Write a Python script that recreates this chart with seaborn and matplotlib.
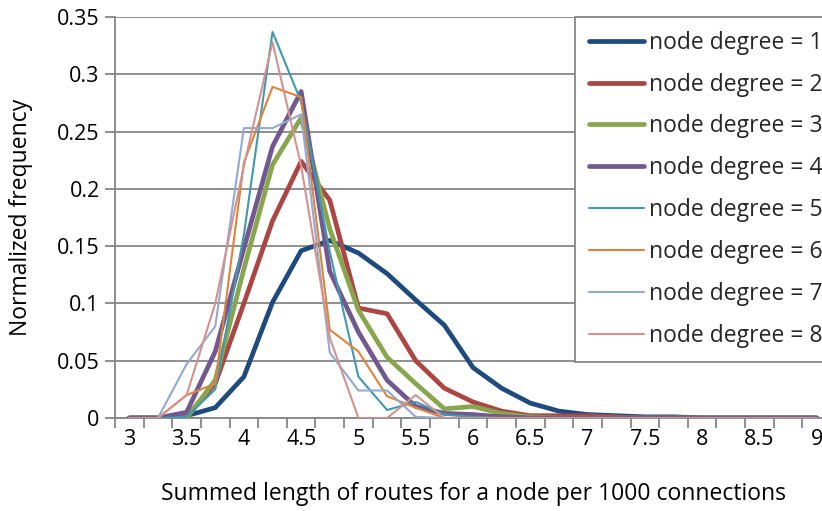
import numpy as np
import pandas as pd
import seaborn as sns
import matplotlib
matplotlib.use("Agg")
import matplotlib.pyplot as plt
from matplotlib.lines import Line2D
from matplotlib.ticker import FixedLocator

# Summed route length per node (per 1000 connections), binned every 0.25
lengths = [3.00, 3.25, 3.50, 3.75, 4.00, 4.25, 4.50, 4.75, 5.00, 5.25, 5.50, 5.75,
           6.00, 6.25, 6.50, 6.75, 7.00, 7.25, 7.50, 7.75, 8.00, 8.25, 8.50, 8.75, 9.00]

degree_1 = [0, 0, 0.002, 0.009, 0.036, 0.101, 0.146, 0.155, 0.144, 0.126, 0.103, 0.081,
            0.044, 0.026, 0.013, 0.006, 0.003, 0.002, 0.001, 0.001, 0, 0, 0, 0, 0]
degree_2 = [0, 0, 0.001, 0.030, 0.100, 0.172, 0.224, 0.190, 0.096, 0.091, 0.050, 0.026,
            0.014, 0.006, 0.002, 0.002, 0.002, 0.001, 0, 0, 0, 0, 0, 0, 0]
degree_3 = [0, 0, 0, 0.033, 0.130, 0.221, 0.262, 0.165, 0.094, 0.053, 0.030, 0.008,
            0.010, 0.004, 0.001, 0, 0, 0, 0, 0, 0, 0, 0, 0, 0]
degree_4 = [0, 0, 0.005, 0.058, 0.148, 0.237, 0.285, 0.128, 0.075, 0.033, 0.010, 0.004,
            0.003, 0.001, 0, 0, 0, 0, 0, 0, 0, 0, 0, 0, 0]
degree_5 = [0, 0, 0.001, 0.025, 0.160, 0.337, 0.276, 0.145, 0.036, 0.007, 0.014, 0.003,
            0.001, 0, 0, 0, 0, 0, 0, 0, 0, 0, 0, 0, 0]
degree_6 = [0, 0, 0.020, 0.030, 0.223, 0.289, 0.280, 0.077, 0.058, 0.019, 0.009, 0,
            0, 0, 0, 0, 0, 0, 0, 0, 0, 0, 0, 0, 0]
degree_7 = [0, 0, 0.047, 0.080, 0.253, 0.253, 0.265, 0.057, 0.024, 0.024, 0.001, 0,
            0, 0, 0, 0, 0, 0, 0, 0, 0, 0, 0, 0, 0]
degree_8 = [0, 0, 0.020, 0.100, 0.220, 0.328, 0.220, 0.070, 0, 0, 0.020, 0,
            0, 0, 0, 0, 0, 0, 0, 0, 0, 0, 0, 0, 0]

series_labels = [f"node degree = {d}" for d in range(1, 9)]
series_values = [degree_1, degree_2, degree_3, degree_4,
                 degree_5, degree_6, degree_7, degree_8]

x_tick_labels = ["3", "3.5", "4", "4.5", "5", "5.5", "6", "6.5", "7", "7.5", "8", "8.5", "9"]
y_tick_labels = ["0", "0.05", "0.1", "0.15", "0.2", "0.25", "0.3", "0.35"]

colors = ["#1F4A7E", "#AA4643", "#89A54E", "#71588F",
          "#4198AF", "#DB843D", "#93A9CF", "#D19392"]
widths = [3.4, 3.4, 3.4, 3.4, 1.5, 1.5, 1.5, 1.5]

df = pd.DataFrame({
    "length": np.tile(lengths, len(series_labels)),
    "freq": np.concatenate(series_values),
    "series": np.repeat(series_labels, len(lengths)),
})

sns.set_theme(style="white")
plt.rcParams["font.family"] = ["Open Sans", "DejaVu Sans"]

grid_color = "#868686"

fig = plt.figure(figsize=(8.22, 5.11), dpi=100)
# plot area runs past the right edge of the canvas, as the legend does
ax = fig.add_axes([115 / 822, (511 - 418) / 511, 716 / 822, 401 / 511])

for label, color, lw in zip(series_labels, colors, widths):
    sub = df[df["series"] == label]
    sns.lineplot(data=sub, x="length", y="freq", color=color, linewidth=lw,
                 ax=ax, legend=False, solid_capstyle="round", solid_joinstyle="round",
                 zorder=3)

ax.set_xlim(2.875, 9.125)
ax.set_ylim(0, 0.35)

# category-style axis: labels on bins, tick marks between bins
ax.xaxis.set_major_locator(FixedLocator([float(t) for t in x_tick_labels]))
ax.set_xticklabels(x_tick_labels)
ax.xaxis.set_minor_locator(FixedLocator(np.arange(2.875, 9.2, 0.25)))
ax.tick_params(axis="x", which="major", length=0, pad=8, labelsize=15.5, labelcolor="black")
ax.tick_params(axis="x", which="minor", length=7, width=1.3, color=grid_color, direction="out",
               bottom=True)

ax.yaxis.set_major_locator(FixedLocator([float(t) for t in y_tick_labels]))
ax.set_yticklabels(y_tick_labels)
ax.tick_params(axis="y", which="major", length=7, width=1.3, color=grid_color, direction="out",
               pad=4, labelsize=15.5, labelcolor="black", left=True)

ax.yaxis.grid(True, color=grid_color, linewidth=1.3)
ax.set_axisbelow(True)

for side in ["top", "right"]:
    ax.spines[side].set_visible(False)
for side in ["left", "bottom"]:
    ax.spines[side].set_color(grid_color)
    ax.spines[side].set_linewidth(1.3)

ax.set_xlabel("Summed length of routes for a node per 1000 connections", fontsize=16.5,
              labelpad=23, color="black")
ax.set_ylabel("Normalized frequency", fontsize=16.5, labelpad=17, color="black")

handles = [Line2D([0], [0], color=c, linewidth=lw, solid_capstyle="round")
           for c, lw in zip(colors, widths)]
leg = fig.legend(handles, series_labels, loc="upper left",
                 bbox_to_anchor=(575 / 822, 1 - 17 / 511),
                 fontsize=16.5, frameon=True, fancybox=False, framealpha=1,
                 edgecolor=grid_color, handlelength=2.4, handletextpad=0.22,
                 labelspacing=0.78, borderpad=0.6, borderaxespad=0)
leg.get_frame().set_linewidth(1.3)

fig.savefig("out.png", dpi=100)
